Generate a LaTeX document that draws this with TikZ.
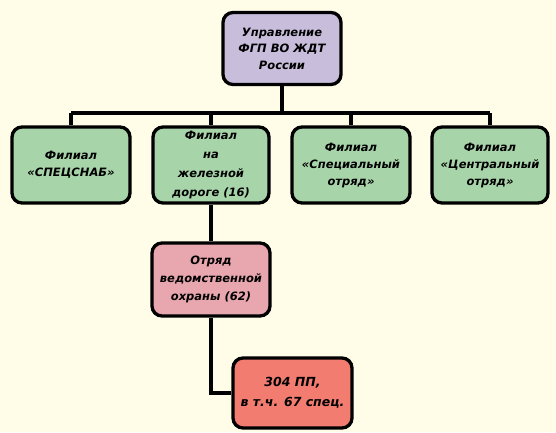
\documentclass[tikz,border=0pt]{standalone}
\usepackage{fontspec}
\setmainfont{DejaVu Sans}
\begin{document}
\begin{tikzpicture}[x=1pt,y=-1pt,
  box/.style={draw=black,line width=3.3pt,rounded corners=10pt,inner sep=0pt,align=center,
    font=\fontsize{11.5}{17}\selectfont\bfseries\itshape},
  conn/.style={draw=black,line width=3.8pt}]
\fill[fill={rgb,255:red,255;green,253;blue,232}] (0,0) rectangle (556,432);
\useasboundingbox (0,0) rectangle (556,432);
\node[box,fill={rgb,255:red,200;green,190;blue,220},minimum width=118pt,minimum height=72pt,font=\fontsize{11.5}{16.5}\selectfont\bfseries\itshape] (top) at (282,48.5) {Управление\\ФГП ВО ЖДТ\\России};
\node[box,fill={rgb,255:red,168;green,212;blue,170},minimum width=118pt,minimum height=76pt] (f1) at (71,165) {Филиал\\«СПЕЦСНАБ»};
\node[box,fill={rgb,255:red,168;green,212;blue,170},minimum width=116pt,minimum height=76pt,font=\fontsize{11.5}{19}\selectfont\bfseries\itshape] (f2) at (211,165) {Филиал\\на\\железной\\дороге (16)};
\node[box,fill={rgb,255:red,168;green,212;blue,170},minimum width=118pt,minimum height=76pt] (f3) at (351,165) {Филиал\\«Специальный\\отряд»};
\node[box,fill={rgb,255:red,168;green,212;blue,170},minimum width=116pt,minimum height=76pt] (f4) at (490,165) {Филиал\\«Центральный\\отряд»};
\node[box,fill={rgb,255:red,232;green,166;blue,174},minimum width=118pt,minimum height=73pt,font=\fontsize{11.5}{18}\selectfont\bfseries\itshape] (o) at (211,279.5) {Отряд\\ведомственной\\охраны (62)};
\node[box,fill={rgb,255:red,242;green,124;blue,112},minimum width=119pt,minimum height=70pt,font=\fontsize{12.5}{20}\selectfont\bfseries\itshape] (p) at (292.5,393) {304 ПП,\\в т.ч. 67 спец.};
\coordinate (bus) at (282,113);
\draw[conn] (top.south) -- (bus);
\draw[conn] (f1.north |- bus) -- (f4.north |- bus);
\draw[conn] (f1.north |- bus) -- (f1.north);
\draw[conn] (f2.north |- bus) -- (f2.north);
\draw[conn] (f3.north |- bus) -- (f3.north);
\draw[conn] (f4.north |- bus) -- (f4.north);
\draw[conn] (f2.south) -- (o.north);
\draw[conn] (o.south) |- (p.west);
\end{tikzpicture}
\end{document}
